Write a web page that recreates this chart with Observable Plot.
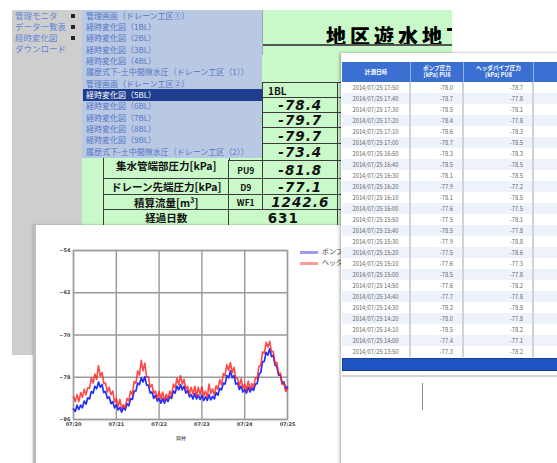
<!DOCTYPE html>
<html><head><meta charset="utf-8">
<script src="https://cdn.jsdelivr.net/npm/d3@7"></script>
<script src="https://cdn.jsdelivr.net/npm/@observablehq/plot@0.6"></script>
<style>
html,body{margin:0;padding:0;background:#fff;}
#stage{position:relative;width:557px;height:463px;overflow:hidden;background:#fff;font-family:"Noto Sans CJK JP",sans-serif;}
.a{position:absolute;box-sizing:border-box;white-space:nowrap;}
</style></head>
<body><div id="stage"></div>
<script>
// ---------- data ----------
const menuItems = ["管理モニタ","データ一覧表","経時変化図","ダウンロード"];
const subItems = ["管理画面（ドレーン工区①）","経時変化図（1BL）","経時変化図（2BL）","経時変化図（3BL）","経時変化図（4BL）","履歴式下-土中間隙水圧（ドレーン工区（1））","管理画面（ドレーン工区②）","経時変化図（5BL）","経時変化図（6BL）","経時変化図（7BL）","経時変化図（8BL）","経時変化図（9BL）","履歴式下-土中間隙水圧（ドレーン工区（2））"];
const selectedSub = 7;
const pageTitle = "地区遊水地下";
const blHeader = "1BL";
const blValues = ["-78.4","-79.7","-79.7","-73.4","-81.8","-77.1","1242.6"];
const rowLabels = ["集水管端部圧力[kPa]","ドレーン先端圧力[kPa]","積算流量[m³]","経過日数"];
const rowCodes = ["PU9","D9","WF1"];
const elapsedDays = "631";
const tableHeaders = [["計測日時"],["ポンプ圧力","[kPa] PU8"],["ヘッダパイプ圧力","[kPa] PU8"],["ヘッダ",""]];
const times = ["2014/07/25 17:50","2014/07/25 17:40","2014/07/25 17:30","2014/07/25 17:20","2014/07/25 17:10","2014/07/25 17:00","2014/07/25 16:50","2014/07/25 16:40","2014/07/25 16:30","2014/07/25 16:20","2014/07/25 16:10","2014/07/25 16:00","2014/07/25 15:50","2014/07/25 15:40","2014/07/25 15:30","2014/07/25 15:20","2014/07/25 15:10","2014/07/25 15:00","2014/07/25 14:50","2014/07/25 14:40","2014/07/25 14:30","2014/07/25 14:20","2014/07/25 14:10","2014/07/25 14:00","2014/07/25 13:50"];
const pumpVals = ["-78.0","-78.7","-78.5","-78.4","-78.6","-78.7","-78.3","-78.5","-78.1","-77.9","-78.1","-77.6","-77.5","-78.5","-77.9","-77.5","-77.6","-78.5","-77.6","-77.7","-78.2","-78.0","-78.5","-77.4","-77.3"];
const headerVals = ["-78.7","-77.8","-78.1","-77.8","-78.3","-78.5","-78.3","-78.5","-78.5","-77.2","-78.5","-77.5","-78.1","-77.8","-78.8","-78.6","-77.3","-77.8","-78.2","-77.8","-78.8","-77.8","-78.2","-77.1","-78.2"];
const seriesNames = ["ポンプ圧力","ヘッダパイプ圧力"];
const seriesStart = "2014-07-20T00:00:00Z"; // hourly samples
const redSeries = [-81.7,-82.6,-81.3,-82.6,-80.9,-81.8,-80.3,-81.3,-80.0,-80.1,
-78.1,-79.1,-77.4,-78.4,-75.8,-77.8,-77.1,-79.2,-79.1,-80.8,
-79.9,-81.3,-80.6,-82.7,-82.0,-83.5,-82.2,-83.9,-83.2,-83.8,
-82.0,-82.5,-80.6,-81.3,-78.8,-79.1,-76.8,-77.6,-74.8,-76.8,
-75.3,-78.0,-77.9,-79.9,-79.4,-81.1,-80.6,-82.1,-80.7,-82.1,
-80.8,-82.4,-81.2,-82.1,-80.6,-81.5,-79.3,-80.0,-78.2,-79.4,
-77.7,-79.3,-78.4,-80.3,-79.7,-81.3,-79.9,-81.2,-79.7,-81.6,
-79.9,-81.3,-79.8,-81.6,-80.6,-81.8,-79.3,-81.1,-80.2,-81.4,
-79.6,-80.3,-78.5,-79.4,-77.3,-77.7,-75.6,-76.7,-75.2,-77.2,
-76.1,-78.3,-78.2,-79.7,-78.3,-80.1,-79.3,-80.5,-78.7,-80.3,
-79.2,-79.9,-78.1,-78.3,-75.9,-75.8,-73.2,-73.5,-71.4,-72.3,
-71.2,-73.2,-73.1,-75.4,-75.2,-77.4,-77.2,-79.4,-79.1,-80.7,
-80.2];
const blueSeries = [-84.0,-84.5,-83.3,-84.1,-83.3,-83.8,-82.5,-83.1,-81.9,-82.1,
-80.7,-81.0,-79.7,-80.2,-78.9,-79.9,-79.4,-80.9,-80.7,-82.0,
-81.7,-83.0,-82.6,-83.8,-83.2,-84.2,-83.7,-84.6,-83.7,-84.2,
-83.0,-83.4,-82.1,-82.2,-80.6,-80.6,-79.1,-79.4,-78.1,-78.9,
-77.9,-79.5,-79.5,-81.0,-80.8,-82.0,-81.4,-82.5,-82.0,-82.9,
-82.0,-82.9,-82.0,-82.6,-81.6,-82.0,-80.6,-81.0,-79.7,-80.4,
-79.4,-80.4,-79.7,-81.0,-80.5,-81.7,-81.3,-82.1,-81.1,-82.1,
-81.4,-82.2,-81.4,-82.4,-81.7,-82.4,-81.3,-82.3,-81.6,-82.1,
-80.9,-81.4,-80.1,-80.4,-79.1,-79.3,-77.7,-78.1,-76.8,-78.1,
-77.7,-79.3,-79.1,-80.3,-79.7,-80.8,-80.3,-81.0,-79.9,-80.8,
-80.0,-80.5,-79.3,-79.2,-77.4,-77.1,-75.1,-75.0,-73.3,-73.8,
-72.6,-74.1,-73.8,-75.7,-75.9,-77.6,-77.6,-79.1,-78.9,-80.2,
-79.8];
const yTicks = [-54,-62,-70,-78,-86];
const xTickLabels = ["07/20","07/21","07/22","07/23","07/24","07/25"];
const xLabel = "日付";

// ---------- helpers ----------
const stage = document.getElementById("stage");
function box(parent, x, y, w, h, css, text) {
  const d = document.createElement("div");
  d.className = "a";
  d.style.cssText = `left:${x}px;top:${y}px;width:${w}px;height:${h}px;` + (css || "");
  if (text != null) d.innerHTML = text;
  parent.appendChild(d);
  return d;
}

// ---------- left gray menu ----------
box(stage, 12, 10, 70, 345, "background:#cecece;");
menuItems.forEach((m, i) => {
  box(stage, 15, 10 + i * 11, 60, 11, "font-size:8.5px;line-height:11px;color:#6386d6;", m);
  if (i < 3) box(stage, 71, 14 + i * 11, 3.5, 3.5, "background:#222;");
});

// ---------- green page ----------
const gTop = box(stage, 262, 10, 190, 45, "background:#c9f8c9;overflow:hidden;border-left:1px solid #9ab;");
box(gTop, 63, 13, 220, 26, "font-size:20px;line-height:26px;font-weight:900;letter-spacing:4px;color:#000;", pageTitle);
box(gTop, 0, 34, 190, 2, "background:#555;");
box(stage, 82, 55, 259, 175, "background:#c9f8c9;");

// green table
const rowTops = [82,97,112,127,143,160,178,194,209,225];
const colX = [103,228,262,337,360];
const cellCss = "border:1.5px solid #3c3c3c;margin:0;background:#c9f8c9;";
function gcell(c0, c1, r0, r1, text, css) {
  const x = colX[c0], y = rowTops[r0];
  return box(stage, x, y, colX[c1] - x + 1.5, rowTops[r1] - y + 1.5,
    cellCss + "display:flex;align-items:center;justify-content:center;color:#111;font-weight:bold;" + (css || ""), text);
}
for (let r = 0; r < 4; r++) { gcell(0,1,r,r+1,""); gcell(1,2,r,r+1,""); }
gcell(1,2,4,5,"");
gcell(0,1,4,6,rowLabels[0],"font-size:10.5px;padding-top:9px;");
gcell(1,2,5,6,rowCodes[0],"font-size:8.5px;");
gcell(0,1,6,7,rowLabels[1],"font-size:10.5px;");
gcell(1,2,6,7,rowCodes[1],"font-size:8.5px;");
gcell(0,1,7,8,rowLabels[2],"font-size:10.5px;");
gcell(1,2,7,8,rowCodes[2],"font-size:8.5px;");
gcell(0,1,8,9,rowLabels[3],"font-size:10.5px;");
gcell(2,3,0,1,blHeader,"font-size:10px;justify-content:flex-start;padding-left:5px;");
blValues.forEach((v,i)=>gcell(2,3,i+1,i+2,v,"font-family:'DejaVu Sans';font-size:13.5px;letter-spacing:1px;font-style:italic;"));
gcell(1,3,8,9,elapsedDays,"font-family:'DejaVu Sans';font-size:13.5px;letter-spacing:1px;");
for (let r = 0; r < 9; r++) gcell(3,4,r,r+1,"");

// ---------- submenu ----------
box(stage, 82, 10, 180, 148, "background:#b9c9e3;");
subItems.forEach((s, i) => {
  const y = 9.5 + i * 11.35;
  if (i === selectedSub) box(stage, 83, y, 179, 12, "background:#1e3d8e;");
  box(stage, 86, y, 176, 12, `font-size:8px;line-height:12px;color:${i===selectedSub?"#fff":"#5475c8"};`, s);
});

// ---------- chart window ----------
const cw = box(stage, 33, 225, 308, 240, "background:#fff;box-shadow:0 0 2px rgba(0,0,0,0.35);");
box(stage, 33, 225, 3, 240, "background:#bdbdbd;");

const t0 = new Date(seriesStart).getTime();
const blueData = blueSeries.map((v,i)=>({date:new Date(t0+i*3600e3), value:v}));
const redData = redSeries.map((v,i)=>({date:new Date(t0+i*3600e3), value:v}));
const xTicks = xTickLabels.map(s => new Date(Date.UTC(2014, +s.slice(0,2)-1, +s.slice(3))));
const grid = {stroke:"#9a9a9a", strokeOpacity:1, strokeWidth:1.4};
const chart = Plot.plot({
  width:308, height:238, marginLeft:40, marginRight:54, marginTop:25, marginBottom:44,
  style:{fontFamily:"DejaVu Sans", fontSize:"5px", color:"#444", background:"transparent"},
  x:{type:"utc", domain:[xTicks[0], xTicks[xTicks.length-1]]},
  y:{domain:[-86,-54]},
  marks:[
    Plot.gridX(xTicks, grid),
    Plot.gridY(yTicks, grid),
    Plot.frame({stroke:"#9a9a9a", strokeWidth:1.4}),
    Plot.line(blueData,{x:"date", y:"value", stroke:"#2030ff", strokeWidth:1.7}),
    Plot.line(redData,{x:"date", y:"value", stroke:"#ff1a1a", strokeWidth:1.6, strokeOpacity:0.8}),
    Plot.axisX(xTicks,{tickFormat:d3.utcFormat("%m/%d"), tickSize:0, tickPadding:3, fontSize:5, fontWeight:"bold", label:xLabel, labelAnchor:"center", labelArrow:"none", labelOffset:20}),
    Plot.axisY(yTicks,{tickSize:0, tickPadding:3, fontSize:5, fontWeight:"bold", label:null})
  ]
});
chart.style.position = "absolute"; chart.style.left = "0px"; chart.style.top = "0px";
cw.appendChild(chart);
// legend
box(cw, 267, 26, 18, 2.5, "background:#9a9aff;");
box(cw, 289, 21, 80, 11, "font-size:7px;line-height:11px;color:#444;", seriesNames[0]);
box(cw, 267, 37, 18, 2.5, "background:#ff9a9a;");
box(cw, 289, 32, 80, 11, "font-size:7px;line-height:11px;color:#444;", seriesNames[1]);

// ---------- data table window ----------
const bw = box(stage, 341, 53, 230, 420, "background:#fff;box-shadow:-1px 0 3px rgba(0,0,0,0.35);");
const bcols = [1, 70, 123, 193, 260];
tableHeaders.forEach((h, c) => {
  box(bw, bcols[c], 9, bcols[c+1]-bcols[c], 20,
    "background:#3b6fd1;border-right:1px solid #8fb0ea;color:#fff;font-weight:bold;font-size:5.6px;line-height:7px;display:flex;flex-direction:column;align-items:center;justify-content:center;overflow:hidden;",
    h.map(s=>`<div>${s}</div>`).join(""));
});
times.forEach((t, i) => {
  const y = 29 + i * 11;
  const bg = i % 2 ? "#edf2fb" : "#ffffff";
  const cells = [t, pumpVals[i], headerVals[i], ""];
  cells.forEach((v, c) => {
    box(bw, bcols[c], y, bcols[c+1]-bcols[c], 11,
      `background:${bg};border-right:2px solid #cfd3d9;color:#666;font-size:5.8px;line-height:11px;` + (c === 0 ? "text-align:center;" : "text-align:right;padding-right:9px;"),
      v);
  });
});
box(bw, 1, 305, 229, 13, "background:#1f55c2;border:1px solid #173f94;");
box(bw, 1, 322, 229, 2, "background:#d4d4d4;");
box(bw, 81, 330, 1, 27, "background:#8a8a8a;");
</script></body></html>
